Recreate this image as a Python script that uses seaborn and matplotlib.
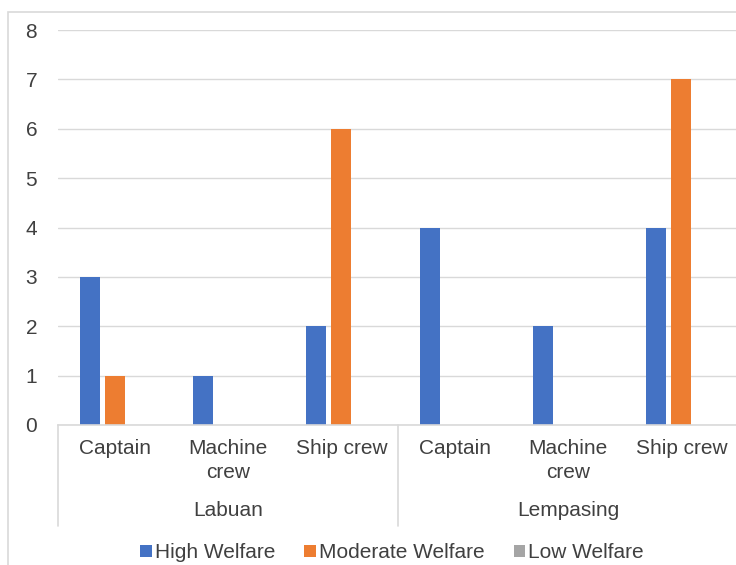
import matplotlib
matplotlib.use("Agg")
import matplotlib.pyplot as plt
import matplotlib.transforms as mtransforms
from matplotlib.patches import Patch, Rectangle
from matplotlib.lines import Line2D
import seaborn as sns
import pandas as pd

# ---- data ----
groups = ["Labuan", "Lempasing"]
occupations = ["Captain", "Machine\ncrew", "Ship crew"]
series = ["High Welfare", "Moderate Welfare", "Low Welfare"]
high = [3, 1, 2, 4, 2, 4]
moderate = [1, 0, 6, 0, 0, 7]
low = [0, 0, 0, 0, 0, 0]
yticks = [0, 1, 2, 3, 4, 5, 6, 7, 8]
colors = ["#4472C4", "#ED7D31", "#A5A5A5"]

cats = [f"{g}|{o}" for g in groups for o in occupations]
rows = []
for s, vals in zip(series, [high, moderate, low]):
    for c, v in zip(cats, vals):
        rows.append({"cat": c, "welfare": s, "value": v})
df = pd.DataFrame(rows)

sns.set_style("white")
plt.rcParams["font.family"] = ["Liberation Sans", "DejaVu Sans"]

W, H = 736, 565
fig = plt.figure(figsize=(W / 100, H / 100), dpi=100)

def fx(px):
    return px / W

def fy(py):
    return (H - py) / H

ax_left, ax_right, ax_top, ax_bot = 58, 738, 30, 425
ax = fig.add_axes([fx(ax_left), fy(ax_bot), fx(ax_right - ax_left), (ax_bot - ax_top) / H])

sns.barplot(data=df, x="cat", y="value", hue="welfare", order=cats,
            hue_order=series, palette=colors, width=0.66, gap=0.2,
            ax=ax, legend=False, saturation=1, linewidth=0)

ax.set_xlim(-0.5, len(cats) - 0.5)
ax.set_ylim(0, 8)
ax.set_yticks(yticks)
ax.set_yticklabels([str(t) for t in yticks], fontsize=15, color="#404040")
ax.tick_params(axis="y", length=0, pad=15)
ax.set_xticks([])
ax.set_xlabel("")
ax.set_ylabel("")
ax.yaxis.grid(True, color="#D9D9D9", linewidth=1)
ax.set_axisbelow(True)
for sp in ["top", "right", "left"]:
    ax.spines[sp].set_visible(False)
ax.spines["bottom"].set_color("#D9D9D9")
ax.spines["bottom"].set_linewidth(1.2)

# multi-level category labels
trans = mtransforms.blended_transform_factory(ax.transData, fig.transFigure)
txtc = "#404040"
for i, c in enumerate(cats):
    occ = c.split("|")[1]
    lines = occ.split("\n")
    for k, ln in enumerate(lines):
        ax.text(i, fy(448 + 25 * k), ln, transform=trans, ha="center", va="center",
                fontsize=15, color=txtc, clip_on=False)
for gi, g in enumerate(groups):
    ax.text(gi * 3 + 1, fy(511), g, transform=trans, ha="center", va="center",
            fontsize=15, color=txtc, clip_on=False)
for xb in [-0.5, 2.5, 5.5]:
    ax.add_line(Line2D([xb, xb], [fy(425), fy(526)], transform=trans,
                       color="#D9D9D9", linewidth=1.2, clip_on=False))

# chart border
fig.add_artist(Rectangle((fx(8), fy(600)), fx(800), (600 - 12) / H,
                         transform=fig.transFigure, fill=False,
                         edgecolor="#D9D9D9", linewidth=1.2))

handles = [Patch(facecolor=col, edgecolor="none", label=s) for s, col in zip(series, colors)]
fig.legend(handles=handles, loc="center", bbox_to_anchor=(fx(392), fy(553)), ncol=3,
           frameon=False, fontsize=15, handlelength=0.55, handleheight=0.55,
           handletextpad=0.15, columnspacing=1.4, labelcolor="#404040")

fig.savefig("out.png", dpi=100)
